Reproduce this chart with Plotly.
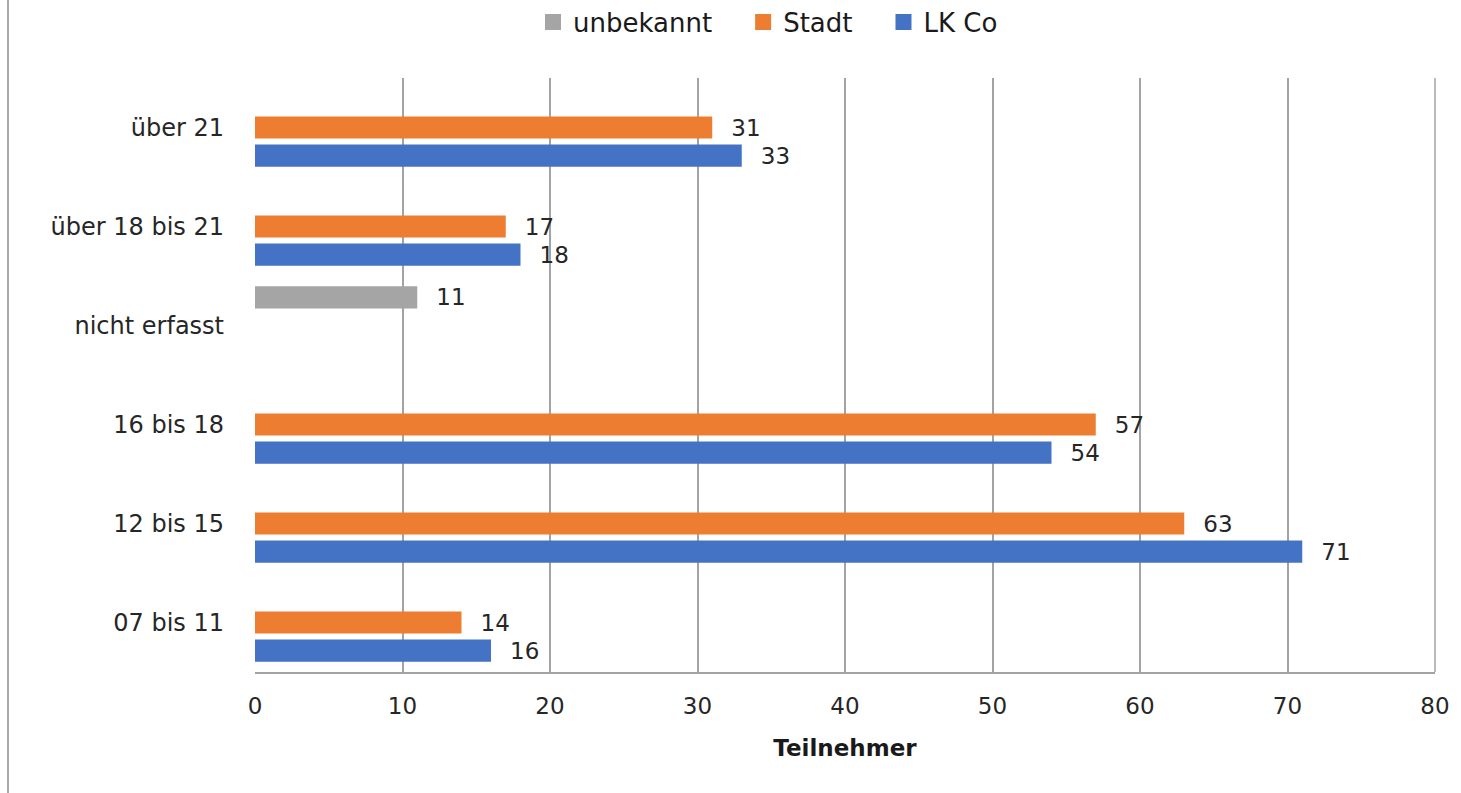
import plotly.graph_objects as go

categories = ["07 bis 11", "12 bis 15", "16 bis 18", "nicht erfasst", "über 18 bis 21", "über 21"]
lk_co = [16, 71, 54, None, 18, 33]
stadt = [14, 63, 57, None, 17, 31]
unbekannt = [None, None, None, 11, None, None]
x_ticks = [0, 10, 20, 30, 40, 50, 60, 70, 80]

FONT = "DejaVu Sans, Open Sans, sans-serif"
TXT = "#262626"
GRID = "#a3a3a3"

W, H = 1461, 793
L, R, T, B = 255, 26, 78, 121
pw, ph = W - L - R, H - T - B

series = [("LK Co", lk_co, "#4472C4", ""),
          ("Stadt", stadt, "#ED7D31", "\u2003"),
          ("unbekannt", unbekannt, "#A5A5A5", "\u2003")]

fig = go.Figure()
for name, vals, col, pad in series:
    fig.add_trace(go.Bar(
        y=categories, x=vals, name=name, orientation="h",
        marker=dict(color=col, line=dict(width=0)),
        text=vals, texttemplate="\u2002\u2009%{x}", textposition="outside",
        constraintext="none",
        textfont=dict(size=23, color=TXT, family=FONT),
        cliponaxis=False, showlegend=False, legendgroup=name,
    ))
# legend entries with larger square swatches
for name, vals, col, pad in series:
    fig.add_trace(go.Scatter(
        x=[None], y=[None], mode="markers", name=name + pad, legendgroup=name,
        marker=dict(symbol="square", size=17, color=col), showlegend=True,
    ))

fig.update_layout(
    width=W, height=H,
    margin=dict(l=L, r=R, t=T, b=B),
    barmode="group", bargap=0.15, bargroupgap=0.21,
    plot_bgcolor="white", paper_bgcolor="white",
    font=dict(family=FONT, size=23, color=TXT),
    showlegend=True,
    legend=dict(orientation="h", traceorder="reversed",
                x=(768 - L) / pw, xanchor="center",
                yref="container", y=1 - 22 / H, yanchor="middle",
                font=dict(size=26, color="#1a1a1a", family=FONT),
                itemwidth=30),
    xaxis=dict(range=[0, 80], tickvals=x_ticks, showgrid=True, gridcolor=GRID, gridwidth=1.5,
               zeroline=False, showline=True, linecolor=GRID, linewidth=1.5,
               ticks="", ticklabelstandoff=13,
               tickfont=dict(size=23, color=TXT, family=FONT),
               title=dict(text="<b>Teilnehmer</b>", font=dict(size=23, color="#1a1a1a", family=FONT), standoff=22),
               fixedrange=True),
    yaxis=dict(categoryorder="array", categoryarray=categories, showgrid=False,
               zeroline=False, showline=False, ticks="", ticklabelstandoff=30,
               tickfont=dict(size=24, color=TXT, family=FONT)),
    shapes=[dict(type="line", xref="paper", yref="paper",
                 x0=(8 - L) / pw, x1=(8 - L) / pw, y0=-B / ph, y1=1 + T / ph,
                 line=dict(color="#8c8c8c", width=1.5)),
            dict(type="line", xref="paper", yref="paper", x0=1, x1=1, y0=0, y1=1,
                 line=dict(color=GRID, width=1.5))],
)

fig.write_html("out.html")
